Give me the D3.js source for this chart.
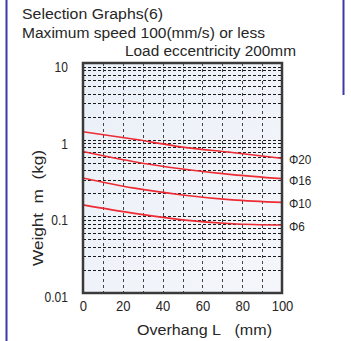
<!DOCTYPE html>
<html><head><meta charset="utf-8">
<script src="https://cdn.jsdelivr.net/npm/d3@7"></script>
<style>
html,body{margin:0;padding:0;background:#fff;}
svg{display:block;}
text{font-family:"Liberation Sans",Arial,sans-serif;fill:#262626;}
</style></head>
<body>
<svg id="c" width="351" height="341"></svg>
<script>
const overhang = [0, 25, 50, 75, 100];
const seriesNames = ["Φ20", "Φ16", "Φ10", "Φ6"];
const phi20 = [1.27, 1.02, 0.80, 0.68, 0.57];
const phi16 = [0.70, 0.52, 0.415, 0.35, 0.31];
const phi10 = [0.317, 0.235, 0.19, 0.164, 0.152];
const phi6 = [0.141, 0.11, 0.09, 0.08, 0.077];
const xTicks = [0, 20, 40, 60, 80, 100];
const yTicks = [0.01, 0.1, 1, 10];
const yTickLabels = ["0.01", "0.1", "1", "10"];
const titleLines = ["Selection Graphs(6)", "Maximum speed 100(mm/s) or less"];
const subtitle = "Load eccentricity 200mm";
const xTitle = "Overhang L\u00a0\u00a0 (mm)";
const yTitle = "Weight\u00a0 m\u00a0 (kg)";

const series = [phi20, phi16, phi10, phi6];
const svg = d3.select("#c");
const L = 83, R = 282, T = 63, B = 293;
const x = d3.scaleLinear().domain([0, 100]).range([L, R]);
const y = d3.scaleLog().domain([0.01, 10]).range([B, T]);

function fitText(sel, len) {
  sel.attr("textLength", len).attr("lengthAdjust", "spacingAndGlyphs");
  return sel;
}

// outer blue frame lines
svg.append("line").attr("x1", 6.5).attr("x2", 6.5).attr("y1", 0).attr("y2", 341)
  .attr("stroke", "#3a3aa8").attr("stroke-width", 2);
svg.append("line").attr("x1", 343.5).attr("x2", 343.5).attr("y1", 0).attr("y2", 95)
  .attr("stroke", "#3a3aa8").attr("stroke-width", 2);

// titles
fitText(svg.append("text").attr("x", 22).attr("y", 18.5).attr("font-size", 15.5).text(titleLines[0]), 141);
fitText(svg.append("text").attr("x", 22).attr("y", 37.5).attr("font-size", 15.5).text(titleLines[1]), 243);
fitText(svg.append("text").attr("x", 125).attr("y", 55.5).attr("font-size", 15.5).text(subtitle), 171);

// plot background
const defs = svg.append("defs");
const gr = defs.append("linearGradient").attr("id", "bg").attr("x1", 0).attr("y1", 0).attr("x2", 1).attr("y2", 1);
gr.append("stop").attr("offset", "0%").attr("stop-color", "#eaf0f8");
gr.append("stop").attr("offset", "100%").attr("stop-color", "#f4f6fa");
svg.append("rect").attr("x", L).attr("y", T).attr("width", R - L).attr("height", B - T).attr("fill", "url(#bg)");

// grid
const minor = [];
[0.01, 0.1, 1].forEach(d => { for (let k = 2; k <= 10; k++) minor.push(d * k); });
const grid = svg.append("g").attr("stroke", "#1a1a1a").attr("stroke-width", 1).attr("stroke-dasharray", "3,2");
grid.selectAll("line.h").data(minor.filter(v => v < 10)).join("line")
  .attr("x1", L).attr("x2", R).attr("y1", d => Math.round(y(d)) + 0.5).attr("y2", d => Math.round(y(d)) + 0.5);
grid.selectAll("line.v").data(d3.range(10, 100, 10)).join("line")
  .attr("y1", T).attr("y2", B).attr("x1", d => Math.round(x(d)) + 0.5).attr("x2", d => Math.round(x(d)) + 0.5)
  .attr("stroke-dasharray", "3,3").attr("stroke", "#444");

// curves
const line = d3.line().x((d, i) => x(overhang[i])).y(d => y(d)).curve(d3.curveMonotoneX);
series.forEach(s => {
  svg.append("path").attr("d", line(s)).attr("fill", "none").attr("stroke", "#ee2a33").attr("stroke-width", 1.6);
});

// frame
svg.append("rect").attr("x", L).attr("y", T).attr("width", R - L).attr("height", B - T)
  .attr("fill", "none").attr("stroke", "#3a3a3a").attr("stroke-width", 2.5);

// axes (labels only)
const yAxis = d3.axisLeft(y).tickValues(yTicks).tickFormat((d, i) => yTickLabels[i]).tickSize(0).tickPadding(15);
const ga = svg.append("g").attr("transform", `translate(${L},0)`).call(yAxis);
ga.select(".domain").remove();
ga.selectAll("text").attr("font-size", 14).attr("dy", "0.6em").style("font-family", "Liberation Sans, Arial, sans-serif").attr("fill", "#262626")
  .each(function() { const t = d3.select(this); const w = this.getComputedTextLength(); t.attr("textLength", w * 0.86).attr("lengthAdjust", "spacingAndGlyphs"); });

const xAxis = d3.axisBottom(x).tickValues(xTicks).tickSize(0).tickPadding(8);
const gx = svg.append("g").attr("transform", `translate(0,${B})`).call(xAxis);
gx.select(".domain").remove();
gx.selectAll("text").attr("font-size", 14).style("font-family", "Liberation Sans, Arial, sans-serif").attr("fill", "#262626")
  .each(function() { const t = d3.select(this); const w = this.getComputedTextLength(); t.attr("textLength", w * 0.93).attr("lengthAdjust", "spacingAndGlyphs"); });

// axis titles
fitText(svg.append("text").attr("x", 137).attr("y", 335).attr("font-size", 15.5).text(xTitle), 135);
fitText(svg.append("text").attr("transform", "translate(43,266) rotate(-90)").attr("font-size", 15.5).text(yTitle), 116);

// series labels
series.forEach((s, i) => {
  const t = svg.append("text").attr("x", 289).attr("y", y(s[s.length - 1]) + 6).attr("font-size", 13).text(seriesNames[i]);
  const w = t.node().getComputedTextLength();
  t.attr("textLength", w * 0.9).attr("lengthAdjust", "spacingAndGlyphs");
});
</script>
</body></html>
